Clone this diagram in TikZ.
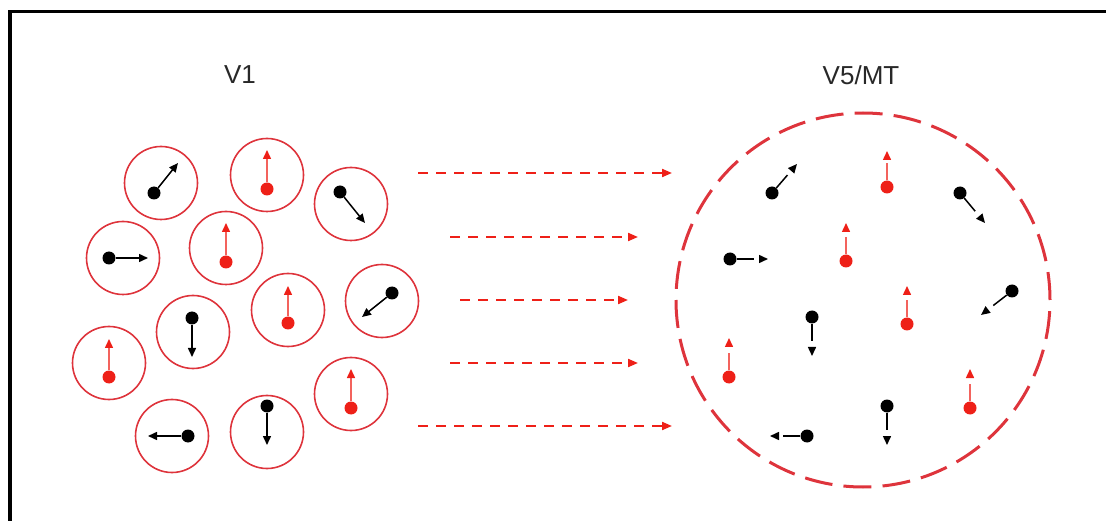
\documentclass[tikz,border=0pt]{standalone}
\usepackage{fontspec}
\setmainfont{Liberation Sans}
\usetikzlibrary{arrows.meta}
\definecolor{cellred}{RGB}{222,52,60}
\definecolor{dotred}{RGB}{238,32,24}
\definecolor{labelgray}{RGB}{40,40,40}

\begin{document}
\begin{tikzpicture}[x=1pt, y=-1pt,
    cell/.style={circle,draw=cellred,line width=1.6pt,minimum size=73pt,inner sep=0pt},
    bdot/.style={circle,fill=black,minimum size=13pt,inner sep=0pt},
    rdot/.style={circle,fill=dotred,minimum size=13pt,inner sep=0pt},
    barrow/.style={draw=black,line width=1.5pt,-{Triangle[length=9pt,width=8pt]}},
    rarrow/.style={draw=dotred!70,line width=1.5pt,-{Triangle[length=9pt,width=8pt,color=dotred]}},
    mvarrow/.style={dash pattern=on 17pt off 30pt},
    flow/.style={draw=dotred,line width=2pt,dash pattern=on 10pt off 8pt,-{Triangle[length=10pt,width=8pt]}},
    area/.style={font=\fontsize{26}{30}\selectfont,text=labelgray}]

\useasboundingbox (0,0) rectangle (1106,521);
\draw[line width=3.8pt] (10,521) -- (10,11.5) -- (1106,11.5);

% titles
\node[area] (lv1) at (240,75) {V1};
\node[area] (lmt) at (861,75) {V5/MT};

% V1: separate cells
\node[cell] (c1) at (161,183) {};
\node[cell] (c2) at (267,175) {};
\node[cell] (c3) at (351,204) {};
\node[cell] (c4) at (123,258) {};
\node[cell] (c5) at (226,248) {};
\node[cell] (c6) at (288,310) {};
\node[cell] (c7) at (382,301) {};
\node[cell] (c8) at (193,332) {};
\node[cell] (c9) at (109,363) {};
\node[cell] (c10) at (351,394) {};
\node[cell] (c11) at (172,436) {};
\node[cell] (c12) at (267,432) {};

\node[bdot] (d1) at (154,193) {};  \coordinate (t1) at (178,163);
\node[rdot] (d2) at (267,189) {};  \coordinate (t2) at (267,150);
\node[bdot] (d3) at (340,192) {};  \coordinate (t3) at (365,223);
\node[bdot] (d4) at (109,258) {};  \coordinate (t4) at (148,258);
\node[rdot] (d5) at (226,262) {};  \coordinate (t5) at (226,223);
\node[rdot] (d6) at (288,323) {};  \coordinate (t6) at (288,286);
\node[bdot] (d7) at (392,293) {};  \coordinate (t7) at (362,317);
\node[bdot] (d8) at (192,318) {};  \coordinate (t8) at (192,357);
\node[rdot] (d9) at (109,377) {};  \coordinate (t9) at (109,339);
\node[rdot] (d10) at (351,408) {}; \coordinate (t10) at (351,369);
\node[bdot] (d11) at (188,436) {}; \coordinate (t11) at (148,436);
\node[bdot] (d12) at (267,406) {}; \coordinate (t12) at (267,445);

\draw[barrow] (d1) -- (t1);
\draw[rarrow] (d2) -- (t2);
\draw[barrow] (d3) -- (t3);
\draw[barrow] (d4) -- (t4);
\draw[rarrow] (d5) -- (t5);
\draw[rarrow] (d6) -- (t6);
\draw[barrow] (d7) -- (t7);
\draw[barrow] (d8) -- (t8);
\draw[rarrow] (d9) -- (t9);
\draw[rarrow] (d10) -- (t10);
\draw[barrow] (d11) -- (t11);
\draw[barrow] (d12) -- (t12);

% V5/MT: one large field
\node[circle,draw=cellred,line width=3pt,dash pattern=on 28pt off 11.17pt,
      minimum size=374pt,inner sep=0pt] (mt) at (863,300) {};

\node[bdot] (p1) at (772,193) {};  \coordinate (q1) at (797,164);
\node[rdot] (p2) at (887,187) {};  \coordinate (q2) at (887,151);
\node[bdot] (p3) at (960,193) {};  \coordinate (q3) at (985,223);
\node[rdot] (p4) at (846,261) {};  \coordinate (q4) at (846,223);
\node[bdot] (p5) at (730,259) {};  \coordinate (q5) at (768,259);
\node[bdot] (p6) at (1012,291) {}; \coordinate (q6) at (981,315);
\node[rdot] (p7) at (907,324) {};  \coordinate (q7) at (907,286);
\node[bdot] (p8) at (812,317) {};  \coordinate (q8) at (812,356);
\node[rdot] (p9) at (729,377) {};  \coordinate (q9) at (729,338);
\node[rdot] (p10) at (970,408) {}; \coordinate (q10) at (970,369);
\node[bdot] (p11) at (887,406) {}; \coordinate (q11) at (887,445);
\node[bdot] (p12) at (807,436) {}; \coordinate (q12) at (770,436);

\draw[barrow,mvarrow] (p1) -- (q1);
\draw[rarrow,mvarrow] (p2) -- (q2);
\draw[barrow,mvarrow] (p3) -- (q3);
\draw[rarrow,mvarrow] (p4) -- (q4);
\draw[barrow,mvarrow] (p5) -- (q5);
\draw[barrow,mvarrow] (p6) -- (q6);
\draw[rarrow,mvarrow] (p7) -- (q7);
\draw[barrow,mvarrow] (p8) -- (q8);
\draw[rarrow,mvarrow] (p9) -- (q9);
\draw[rarrow,mvarrow] (p10) -- (q10);
\draw[barrow,mvarrow] (p11) -- (q11);
\draw[barrow,mvarrow] (p12) -- (q12);

% projection V1 -> V5/MT
\coordinate (a1) at (418,173); \coordinate (b1) at (672,173);
\coordinate (a2) at (450,237); \coordinate (b2) at (638,237);
\coordinate (a3) at (460,300); \coordinate (b3) at (628,300);
\coordinate (a4) at (450,363); \coordinate (b4) at (638,363);
\coordinate (a5) at (418,426); \coordinate (b5) at (672,426);
\draw[flow] (a1) -- (b1);
\draw[flow] (a2) -- (b2);
\draw[flow] (a3) -- (b3);
\draw[flow] (a4) -- (b4);
\draw[flow] (a5) -- (b5);
\end{tikzpicture}
\end{document}
